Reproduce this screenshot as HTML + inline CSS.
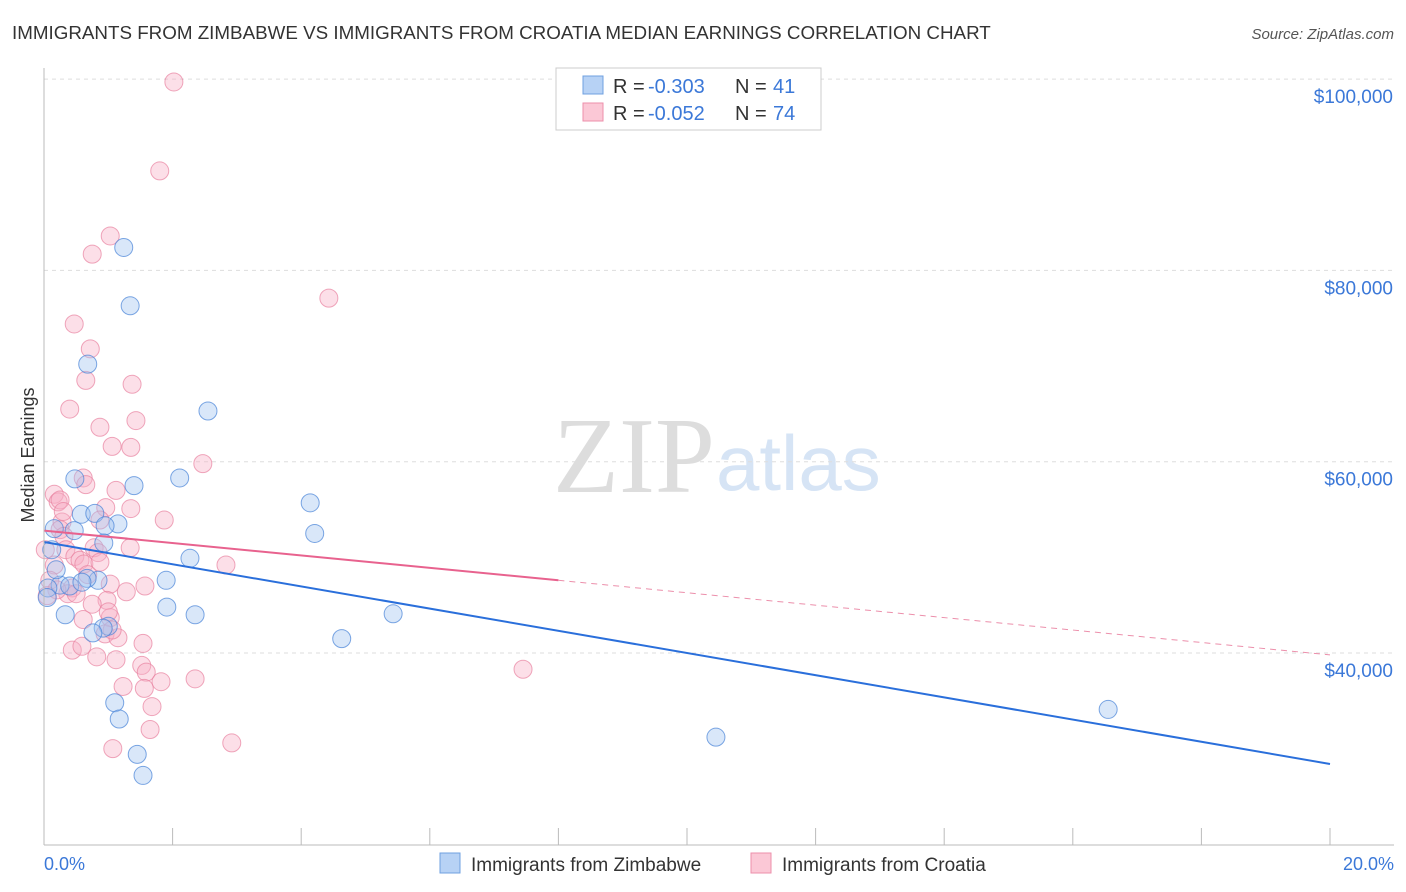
<!DOCTYPE html>
<html><head><meta charset="utf-8"><style>
body{margin:0;background:#fff;font-family:"Liberation Sans",sans-serif}
svg{display:block}
</style></head><body>
<svg id="c" width="1406" height="892">
<text x="12" y="39" font-size="18.8" fill="#333">IMMIGRANTS FROM ZIMBABWE VS IMMIGRANTS FROM CROATIA MEDIAN EARNINGS CORRELATION CHART</text>
<text x="1394" y="39" font-size="15" fill="#555" font-style="italic" text-anchor="end">Source: ZipAtlas.com</text>
<text x="553" y="492" font-size="108" fill="#ddd" font-family="Liberation Serif">ZIP</text>
<text x="716" y="490" font-size="78" fill="#d6e4f5">atlas</text>
<g id="grid"></g><g id="pts"></g><g id="lines"></g>
<line x1="44" y1="68" x2="44" y2="845" stroke="#bbb"/>
<line x1="44" y1="845" x2="1394" y2="845" stroke="#bbb"/>
<text x="34" y="455" font-size="18" fill="#333" transform="rotate(-90 34 455)" text-anchor="middle">Median Earnings</text>
<text x="44" y="870" font-size="18" fill="#3b78d8">0.0%</text>
<text x="1394" y="870" font-size="18" fill="#3b78d8" text-anchor="end">20.0%</text>
<g>
<rect x="556" y="68" width="265" height="62" fill="#fff" stroke="#ccc"/>
<rect x="583" y="76" width="20" height="18" fill="#b7d2f5" stroke="#6fa0e0"/>
<rect x="583" y="103" width="20" height="18" fill="#fbc8d6" stroke="#ec8fab"/>
<text x="613" y="93" font-size="20" fill="#333">R =</text>
<text x="648" y="93" font-size="20" fill="#3b78d8">-0.303</text>
<text x="735" y="93" font-size="20" fill="#333">N =</text>
<text x="773" y="93" font-size="20" fill="#3b78d8">41</text>
<text x="613" y="120" font-size="20" fill="#333">R =</text>
<text x="648" y="120" font-size="20" fill="#3b78d8">-0.052</text>
<text x="735" y="120" font-size="20" fill="#333">N =</text>
<text x="773" y="120" font-size="20" fill="#3b78d8">74</text>
</g>
<g>
<rect x="440" y="853" width="20" height="20" fill="#b7d2f5" stroke="#6fa0e0"/>
<text x="471" y="871" font-size="19" fill="#333">Immigrants from Zimbabwe</text>
<rect x="751" y="853" width="20" height="20" fill="#fbc8d6" stroke="#ec8fab"/>
<text x="782" y="871" font-size="19" fill="#333">Immigrants from Croatia</text>
</g>
</svg>
<script>
const yTicks=[40000,60000,80000,100000];
const yTickLabels=["$40,000","$60,000","$80,000","$100,000"];
const xTicks=[0,2,4,6,8,10,12,14,16,18,20];
const blueX=[1.24,1.34,0.68,2.55,2.11,0.48,1.40,4.14,0.58,0.79,1.15,0.95,0.16,4.21,0.47,0.93,0.12,2.27,1.90,0.84,0.25,0.40,0.06,0.67,1.91,2.35,0.33,4.63,5.43,1.00,0.92,0.76,1.10,1.17,1.45,1.54,10.45,16.55,0.05,0.19,0.59];
const blueY=[82.4,76.3,70.2,65.3,58.3,58.2,57.5,55.7,54.5,54.6,53.5,53.3,53.0,52.5,52.8,51.5,50.8,49.9,47.6,47.6,47.1,47.0,46.8,47.8,44.8,44.0,44.0,41.5,44.1,42.8,42.6,42.1,34.8,33.1,29.4,27.2,31.2,34.1,45.8,48.7,47.4];
const pinkX=[2.02,1.80,1.03,0.75,4.43,0.47,0.72,0.65,1.37,0.40,1.43,0.87,1.06,1.35,2.47,0.61,0.65,1.12,0.16,0.22,0.25,1.35,0.96,1.87,0.28,0.25,0.31,0.78,0.34,0.48,2.83,0.56,0.62,0.16,1.03,1.28,0.44,0.37,0.09,1.57,0.98,1.03,0.61,1.54,0.44,0.59,0.82,1.12,1.52,1.59,1.82,2.35,1.23,1.56,1.68,1.65,1.07,2.92,7.45,0.84,0.68,0.20,0.05,0.30,0.87,0.87,0.95,0.50,1.15,0.02,1.06,0.75,1.34,1.00];
const pinkY=[99.7,90.4,83.6,81.7,77.1,74.4,71.8,68.5,68.1,65.5,64.3,63.6,61.6,61.5,59.8,58.3,57.6,57.0,56.6,55.8,56.0,55.1,55.2,53.9,53.7,52.9,52.2,51.0,50.8,50.1,49.2,49.7,49.3,49.2,47.2,46.4,46.8,46.2,47.6,47.0,45.5,43.7,43.5,41.0,40.3,40.7,39.6,39.3,38.7,38.0,37.0,37.3,36.5,36.3,34.4,32.0,30.0,30.6,38.3,50.5,48.2,46.6,46.0,54.8,53.9,49.5,42.0,46.2,41.6,50.8,42.4,45.1,51.0,44.3];
const blueTrend=[51.6,28.4];
const pinkTrend=[52.8,39.8];
const pinkSolidEnd=8.0;
const NS="http://www.w3.org/2000/svg";
const X=v=>44+v*(1330-44)/20;
const Y=v=>653-(v-40000)*191.3/20000;
const Yk=v=>Y(v*1000);
function mk(t,a,p){const e=document.createElementNS(NS,t);for(const k in a)e.setAttribute(k,a[k]);p.appendChild(e);return e;}
const grid=document.getElementById('grid');
yTicks.forEach((t,i)=>{
 const l=mk('line',{x1:44,x2:1394,y1:Y(t),y2:Y(t),stroke:'#ddd','stroke-dasharray':'4,4'},grid);
 
 
 const tx=mk('text',{x:1393,y:Y(t)+24,'font-size':19,fill:'#3b78d8','text-anchor':'end'},grid);
 tx.textContent=yTickLabels[i];
 
 
});
xTicks.forEach(t=>{
 const l=mk('line',{x1:X(t),x2:X(t),y1:828,y2:845,stroke:'#bbb'},grid);
 
 
});
const pts=document.getElementById('pts');
pinkX.forEach((x,i)=>{
 const c=mk('circle',{cx:X(x),cy:Yk(pinkY[i]),r:9,fill:'rgba(248,176,198,0.4)',stroke:'rgba(232,130,160,0.7)','stroke-width':1},pts);
 
 
});
blueX.forEach((x,i)=>{
 const c=mk('circle',{cx:X(x),cy:Yk(blueY[i]),r:9,fill:'rgba(160,196,240,0.4)',stroke:'rgba(70,130,215,0.7)','stroke-width':1},pts);
 
 
});
const lines=document.getElementById('lines');
const bl=mk('line',{x1:X(0),y1:Yk(blueTrend[0]),x2:X(20),y2:Yk(blueTrend[1]),stroke:'#2a6fdb','stroke-width':2},lines);


const pm=pinkTrend[0]+(pinkTrend[1]-pinkTrend[0])*pinkSolidEnd/20;
const pl=mk('line',{x1:X(0),y1:Yk(pinkTrend[0]),x2:X(pinkSolidEnd),y2:Yk(pm),stroke:'#e8628e','stroke-width':2},lines);


const pd=mk('line',{x1:X(pinkSolidEnd),y1:Yk(pm),x2:X(20),y2:Yk(pinkTrend[1]),stroke:'#ec8fab','stroke-width':1,'stroke-dasharray':'6,5'},lines);


</script>
</body></html>
